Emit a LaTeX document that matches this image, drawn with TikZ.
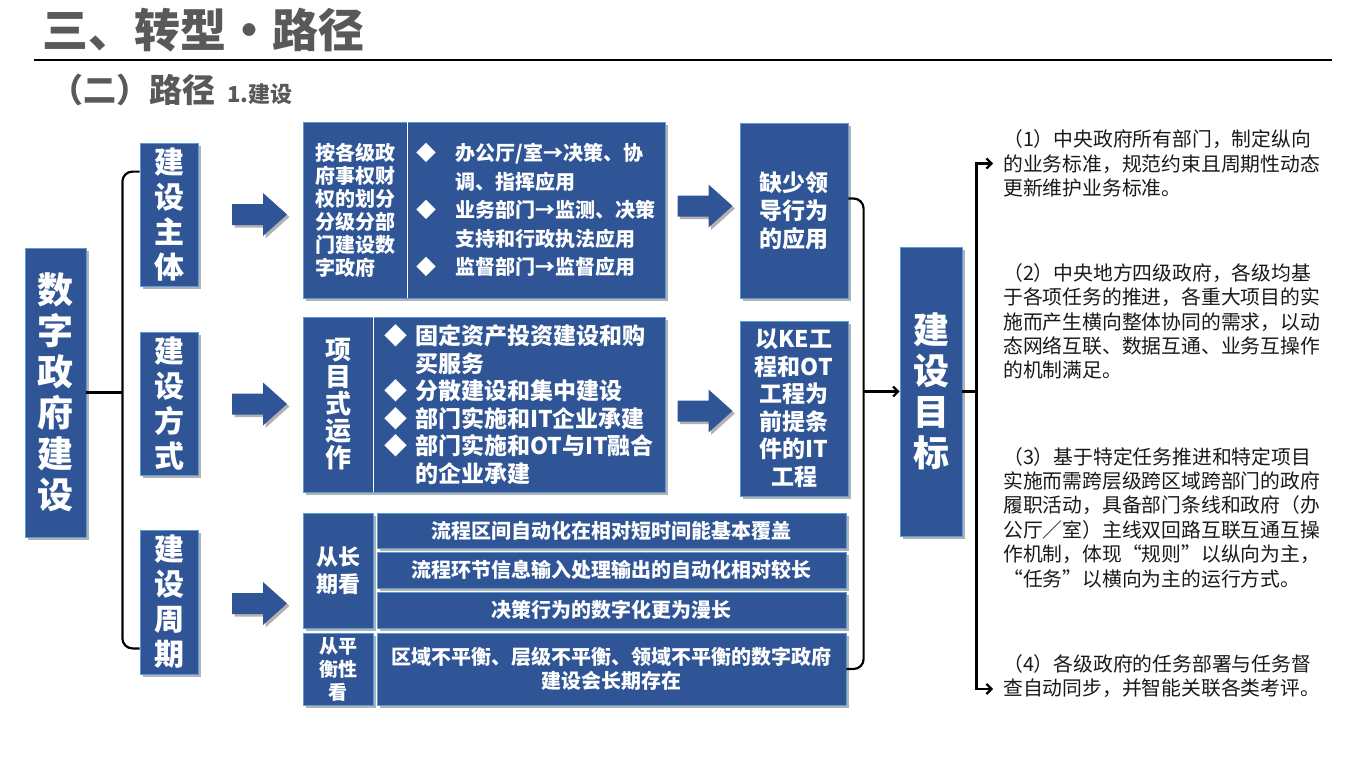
\documentclass[tikz,border=0pt]{standalone}
\usepackage{fontspec}
\setmainfont{Noto Sans CJK SC}
\usetikzlibrary{arrows.meta,shadows}
\definecolor{boxblue}{HTML}{2F5597}
\definecolor{edgeblue}{HTML}{5B9BD5}
\definecolor{titlegray}{HTML}{595959}
\tikzset {
	box/.style={rectangle, fill=boxblue, draw=edgeblue, line width=.8pt, text=white, inner sep=0pt, align=center,
		drop shadow={shadow xshift=2.5pt, shadow yshift=-2.5pt, opacity=.3, fill=black}},
	bigtxt/.style={font=\fontsize{36}{41}\selectfont\bfseries},
	midtxt/.style={font=\fontsize{30}{35}\selectfont\bfseries},
	celltxt/.style={font=\fontsize{20}{24}\selectfont\bfseries},
	listtxt/.style={font=\fontsize{23}{27.5}\selectfont\bfseries},
	note/.style={anchor=west, inner xsep=10pt, inner ysep=0pt, align=left, text=black!90,
		font=\fontsize{19.8}{24.4}\selectfont},
	conn/.style={draw=black, line width=2.2pt},
	tip/.style={-{Straight Barb[length=5pt, width=10pt]}},
	bigarrow/.pic={\fill[boxblue, drop shadow={shadow xshift=2.5pt, shadow yshift=-2.5pt, opacity=.3, fill=black}]
		(-27.5,-10.5) -- (3.5,-10.5) -- (3.5,-21.5) -- (27.5,0) -- (3.5,21.5) -- (3.5,10.5) -- (-27.5,10.5) -- cycle;}
}
\begin{document}
\begin{tikzpicture}[x=1pt, y=-1pt]
	\useasboundingbox (0,0) rectangle (1366,768);
	\node [anchor=west, inner sep=0pt, text=titlegray, font=\fontsize{46}{46}\selectfont\bfseries] (title) at (42,30) {三、转型•路径};
	\draw [line width=1.5pt] (34,60) -- (1332,60);
	\node [anchor=west, inner sep=0pt, text=titlegray, font=\bfseries] (sub) at (50,90)
		{{\fontsize{33}{33}\selectfont （二）路径}\hspace{12pt}{\fontsize{22}{22}\selectfont 1.建设}};

	\node [box, bigtxt, minimum width=61pt, minimum height=289pt] (root) at (55.5,392.5) {数\\字\\政\\府\\建\\设};
	\node [box, midtxt, minimum width=58pt, minimum height=143pt] (zhuti) at (169,214.5) {建\\设\\主\\体};
	\node [box, midtxt, minimum width=58pt, minimum height=143pt] (fangshi) at (169,403.5) {建\\设\\方\\式};
	\node [box, midtxt, minimum width=58pt, minimum height=144pt] (zhouqi) at (169,602) {建\\设\\周\\期};

	\pic at (259.5,214.5) {bigarrow};
	\pic at (259.5,404) {bigarrow};
	\pic at (259.5,603.5) {bigarrow};

	\node [box, font=\fontsize{20}{23}\selectfont\bfseries, align=left, minimum width=104pt, minimum height=176pt] (b1l) at (355,210)
		{按各级政\\府事权财\\权的划分\\分级分部\\门建设数\\字政府};
	\node [box, font=\fontsize{20}{28.5}\selectfont\bfseries, align=left, minimum width=258pt, minimum height=176pt] (b1r) at (536,210)
		{\makebox[39pt][l]{◆}办公厅/室→决策、协\\
		\hspace*{39pt}调、指挥应用\\
		\makebox[39pt][l]{◆}业务部门→监测、决策\\
		\hspace*{39pt}支持和行政执法应用\\
		\makebox[39pt][l]{◆}监督部门→监督应用};
	\draw [white, line width=1pt] (b1l.north east) -- (b1l.south east);

	\node [box, font=\fontsize{26}{27}\selectfont\bfseries, minimum width=70pt, minimum height=175pt] (b2l) at (338,404.5) {项\\目\\式\\运\\作};
	\node [box, listtxt, align=left, minimum width=292pt, minimum height=175pt] (b2r) at (519,404.5)
		{\makebox[31pt][l]{◆}固定资产投资建设和购\\
		\hspace*{31pt}买服务\\
		\makebox[31pt][l]{◆}分散建设和集中建设\\
		\makebox[31pt][l]{◆}部门实施和IT企业承建\\
		\makebox[31pt][l]{◆}部门实施和OT与IT融合\\
		\hspace*{31pt}的企业承建};
	\draw [white, line width=1pt] (b2l.north east) -- (b2l.south east);

	\node [box, font=\fontsize{22}{27}\selectfont\bfseries, minimum width=70pt, minimum height=115pt] (b3a) at (338,570.5) {从长\\期看};
	\node [box, font=\fontsize{19}{23}\selectfont\bfseries, minimum width=70pt, minimum height=72pt] (b3b) at (338,669) {从平\\衡性\\看};
	\node [box, celltxt, minimum width=469pt, minimum height=35pt] (r1) at (611.5,530.5) {流程区间自动化在相对短时间能基本覆盖};
	\node [box, celltxt, minimum width=469pt, minimum height=36pt] (r2) at (611.5,570) {流程环节信息输入处理输出的自动化相对较长};
	\node [box, celltxt, minimum width=469pt, minimum height=36pt] (r3) at (611.5,610) {决策行为的数字化更为漫长};
	\node [box, celltxt, minimum width=469pt, minimum height=72pt] (r4) at (611.5,669) {区域不平衡、层级不平衡、领域不平衡的数字政府\\建设会长期存在};

	\pic at (705,206) {bigarrow};
	\pic at (705,411) {bigarrow};

	\node [box, font=\fontsize{23}{28}\selectfont\bfseries, minimum width=108pt, minimum height=175pt] (quefa) at (794,210.5) {缺少领\\导行为\\的应用};
	\node [box, listtxt, minimum width=108pt, minimum height=175pt] (ke) at (794,408.5) {以KE工\\程和OT\\工程为\\前提条\\件的IT\\工程};
	\node [box, bigtxt, minimum width=62pt, minimum height=289pt] (mubiao) at (931,391.5) {建\\设\\目\\标};

	\node [note] (p1) at (993,163.5) {（1）中央政府所有部门，制定纵向\\的业务标准，规范约束且周期性动态\\更新维护业务标准。};
	\node [note] (p2) at (993,321.5) {（2）中央地方四级政府，各级均基\\于各项任务的推进，各重大项目的实\\施而产生横向整体协同的需求，以动\\态网络互联、数据互通、业务互操作\\的机制满足。};
	\node [note] (p3) at (993,517.5) {（3）基于特定任务推进和特定项目\\实施而需跨层级跨区域跨部门的政府\\履职活动，具备部门条线和政府（办\\公厅／室）主线双回路互联互通互操\\作机制，体现“规则”以纵向为主，\\“任务”以横向为主的运行方式。};
	\node [note] (p4) at (993,676) {（4）各级政府的任务部署与任务督\\查自动同步，并智能关联各类考评。};

	\coordinate (lj) at ([xshift=36pt]root.east);
	\draw [conn] (root.east) -- (lj);
	\draw [conn, rounded corners=10pt] ([yshift=-29pt]zhuti.north west) -| (lj) |- ([yshift=26pt]zhouqi.south west);

	\coordinate (rj) at ([xshift=-36pt]mubiao.west);
	\draw [conn, rounded corners=10pt] ([yshift=12pt]quefa.east) -| (rj) |- (r4.east);
	\draw [conn, tip] (rj) -- (mubiao.west);

	\coordinate (mj) at ([xshift=14pt]mubiao.east);
	\draw [conn] (mubiao.east) -- (mj);
	\draw [conn, tip] (mj) |- (p1.west);
	\draw [conn, tip] (mj) |- ([yshift=-13pt]p4.west);
\end{tikzpicture}
\end{document}
